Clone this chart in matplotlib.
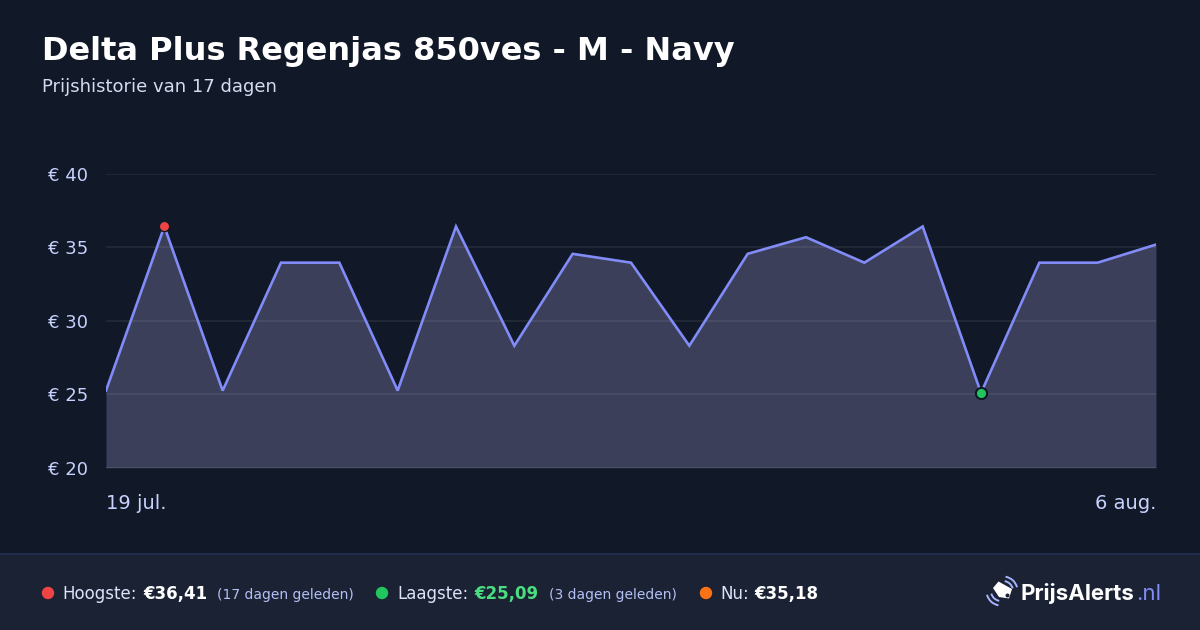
import matplotlib
matplotlib.use("Agg")
import matplotlib.pyplot as plt
from matplotlib.patches import Rectangle, Polygon, Circle, Arc
import numpy as np

# ---------------- data ----------------
dates = ["19 jul.", "20 jul.", "21 jul.", "22 jul.", "23 jul.", "24 jul.", "25 jul.",
         "26 jul.", "27 jul.", "28 jul.", "29 jul.", "30 jul.", "31 jul.", "1 aug.",
         "2 aug.", "3 aug.", "4 aug.", "5 aug.", "6 aug."]
prices = [25.25, 36.41, 25.25, 33.95, 33.95, 25.25, 36.41, 28.30, 34.55, 33.95,
          28.30, 34.55, 35.68, 33.95, 36.41, 25.09, 33.95, 33.95, 35.18]
yticks = [20, 25, 30, 35, 40]
ytick_labels = ["€ 20", "€ 25", "€ 30", "€ 35", "€ 40"]
title = "Delta Plus Regenjas 850ves - M - Navy"
subtitle = "Prijshistorie van 17 dagen"
high_label, high_value, high_note = "Hoogste:", "€36,41", "(17 dagen geleden)"
low_label, low_value, low_note = "Laagste:", "€25,09", "(3 dagen geleden)"
now_label, now_value = "Nu:", "€35,18"

# ---------------- colours ----------------
BG = "#111827"
FOOTER = "#1a2233"
LINE = "#818cf8"
FILL = "#3b3f59"
TICK = "#c7d2fe"
W, H = 1200, 630

fig = plt.figure(figsize=(W / 100, H / 100), dpi=100)
fig.patch.set_facecolor(BG)

# background / overlay axes in pixel coordinates
bg = fig.add_axes([0, 0, 1, 1], zorder=0)
bg.set_xlim(0, W)
bg.set_ylim(H, 0)
bg.axis("off")
bg.add_patch(Rectangle((0, 554), W, H - 554, facecolor=FOOTER, edgecolor="none"))
bg.plot([0, W], [554, 554], color="#263052", lw=1.2)

# titles
bg.text(42, 60, title, color="white", fontsize=23, fontweight="bold",
        family="DejaVu Sans", va="baseline", ha="left")
bg.text(42, 92, subtitle, color="#d4dcf2", fontsize=13,
        family="DejaVu Sans", va="baseline", ha="left")

# ---------------- main chart ----------------
left, right = 106 / W, 1156 / W
bottom = (H - 467.8) / H
top = (H - 173.7) / H
ax = fig.add_axes([left, bottom, right - left, top - bottom], zorder=2)
ax.set_facecolor("none")
x = np.arange(len(prices))
ax.fill_between(x, yticks[0], prices, color=FILL, zorder=1, linewidth=0)
for yv in yticks[1:]:
    ax.axhline(yv, color="white", alpha=0.08, lw=1.2, zorder=2)
ax.axhline(yticks[0], color="#4b5064", lw=1.5, zorder=2)
ax.plot(x, prices, color=LINE, lw=1.9, zorder=3, solid_joinstyle="miter")

imax = int(np.argmax(prices))
imin = int(np.argmin(prices))
ax.scatter([x[imax]], [prices[imax]], s=55, color="#ef4444", edgecolor=BG,
           linewidth=1.0, zorder=4)
ax.scatter([x[imin]], [prices[imin]], s=65, color="#22c55e", edgecolor=BG,
           linewidth=1.5, zorder=4)

ax.set_xlim(0, len(prices) - 1)
ax.set_ylim(yticks[0], yticks[-1])
ax.set_yticks(yticks)
ax.set_yticklabels(ytick_labels)
for lab in ax.get_yticklabels():
    lab.set_va("center_baseline")
ax.set_xticks([0, len(prices) - 1])
ax.set_xticklabels([dates[0], dates[-1]])
xl = ax.get_xticklabels()
xl[0].set_ha("left")
xl[-1].set_ha("right")
ax.tick_params(axis="y", length=0, pad=13, labelsize=13, labelcolor=TICK)
ax.tick_params(axis="x", length=0, pad=19, labelsize=14, labelcolor=TICK)
for s in ax.spines.values():
    s.set_visible(False)

# ---------------- footer ----------------
FY = 599
bg.add_patch(Circle((48, 593), 5.5, color="#ef4444"))
bg.text(62, FY, high_label, color="#dbe3fb", fontsize=12, va="baseline")
bg.text(143, FY, high_value, color="white", fontsize=12, fontweight="bold", va="baseline")
bg.text(217, FY, high_note, color="#b4c0f5", fontsize=10, va="baseline")

bg.add_patch(Circle((382, 593), 5.5, color="#22c55e"))
bg.text(397, FY, low_label, color="#dbe3fb", fontsize=12, va="baseline")
bg.text(474, FY, low_value, color="#4ade80", fontsize=12, fontweight="bold", va="baseline")
bg.text(549, FY, low_note, color="#b4c0f5", fontsize=10, va="baseline")

bg.add_patch(Circle((706, 593), 5.5, color="#f97316"))
bg.text(720, FY, now_label, color="#dbe3fb", fontsize=12, va="baseline")
bg.text(754, FY, now_value, color="white", fontsize=12, fontweight="bold", va="baseline")

# logo icon (tag with signal waves)
bg.add_patch(Polygon([(993, 588), (998.5, 581.5), (1012, 589), (1009, 598.5), (999, 597)],
                     closed=True, facecolor="white", edgecolor="none", joinstyle="round"))
bg.add_patch(Circle((1007.5, 595.5), 1.3, color=FOOTER))
for r in (10, 14.5):
    bg.add_patch(Arc((1003, 591), 2 * r, 2 * r, theta1=-80, theta2=-15,
                     color="#a5b4fc", lw=1.4))
    bg.add_patch(Arc((1001, 591), 2 * r, 2 * r, theta1=100, theta2=165,
                     color="#a5b4fc", lw=1.4))

t1 = bg.text(1021, 600, "PrijsAlerts", color="white", fontsize=16,
             fontweight="bold", family="Inter", va="baseline")
fig.canvas.draw()
ext = t1.get_window_extent(renderer=fig.canvas.get_renderer())
bg.text(ext.x1 + 1, 600, ".nl", color="#818cf8", fontsize=16, family="Inter",
        va="baseline")

fig.savefig("out.png", dpi=100, facecolor=BG)
